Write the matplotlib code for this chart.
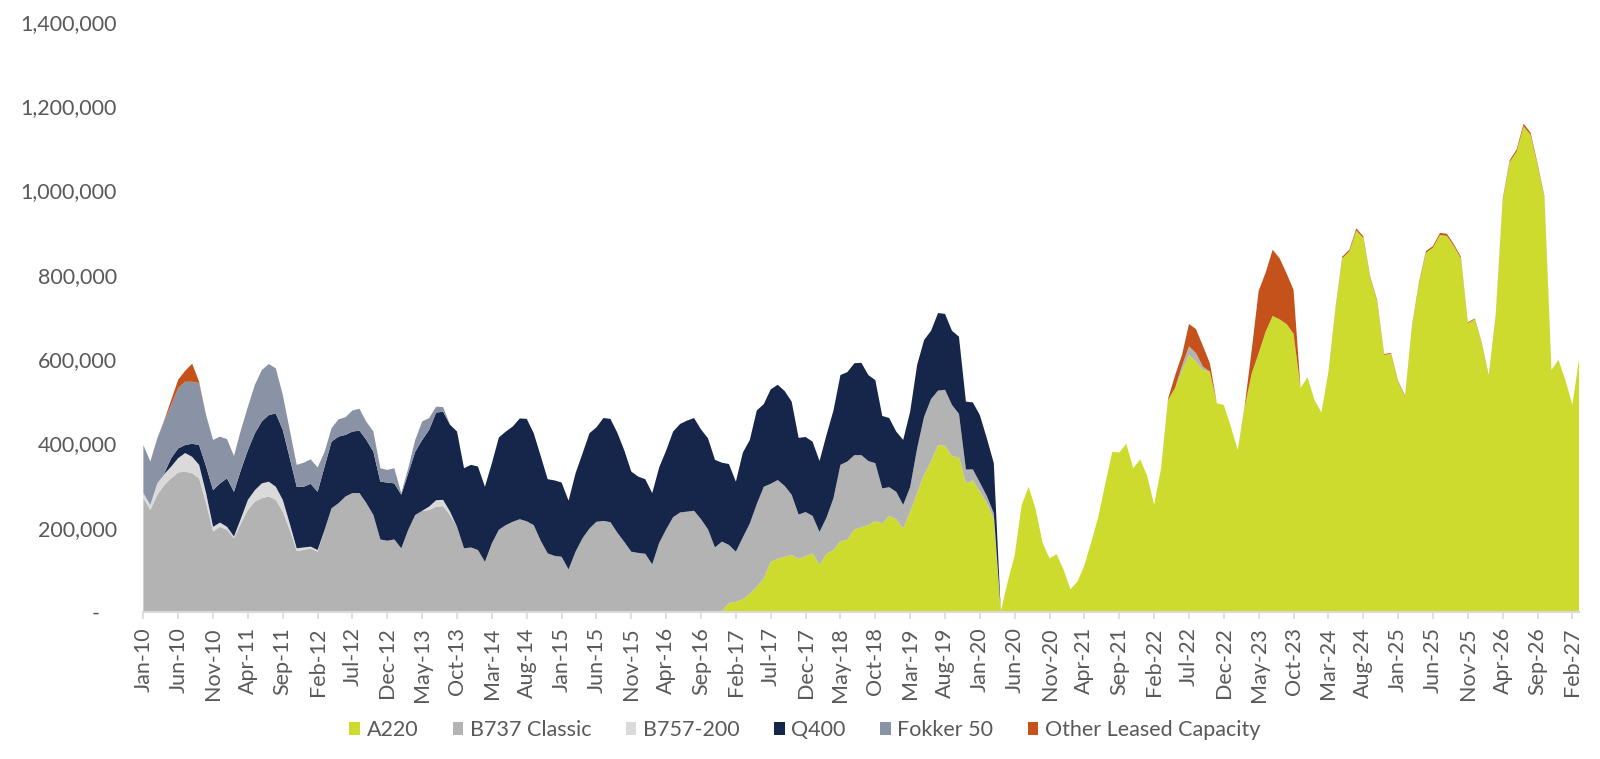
import matplotlib
import numpy as np

matplotlib.use('Agg')

import matplotlib.pyplot as plt  # noqa: E402
from matplotlib.patches import Patch  # noqa: E402
from matplotlib.ticker import FuncFormatter  # noqa: E402

plt.rcParams.update({
    'font.family': ['Lato', 'DejaVu Sans'],
    'font.size': 15,
    'text.color': '#595959',
    'xtick.color': '#595959',
    'ytick.color': '#595959',
})

# monthly values, Jan-10 .. Mar-27, in thousands
A220 = [0] * 83 + [
    3, 21, 24, 30, 43, 60, 80, 119, 126, 131,
    135, 126, 132, 139, 112, 138, 147, 168, 171, 196,
    201, 206, 216, 210, 228, 220, 198, 238, 282, 325,
    357, 396, 394, 369, 367, 305, 312, 285, 258, 220,
    2, 72, 135, 254, 297, 244, 164, 127, 137, 101,
    54, 72, 111, 167, 226, 305, 380, 378, 399, 341,
    362, 323, 254, 341, 503, 531, 572, 610, 594, 574,
    570, 495, 491, 440, 384, 487, 566, 614, 665, 702,
    694, 683, 660, 531, 557, 503, 473, 566, 716, 839,
    855, 905, 887, 792, 736, 610, 612, 546, 511, 677,
    780, 852, 864, 894, 892, 868, 839, 685, 694, 637,
    558, 701, 975, 1067, 1092, 1152, 1132, 1060, 982, 574,
    598, 550, 491, 606,
]
B737 = [
    270, 242, 278, 301, 317, 331, 333, 329, 317, 258,
    191, 202, 195, 175, 210, 242, 262, 270, 274, 266,
    238, 195, 145, 147, 151, 143, 195, 246, 258, 274,
    282, 282, 258, 230, 172, 169, 172, 151, 195, 230,
    240, 242, 250, 251, 230, 202, 151, 153, 147, 119,
    163, 195, 206, 214, 220, 215, 206, 169, 139, 133,
    131, 101, 143, 175, 198, 214, 216, 213, 188, 166,
    143, 140, 138, 113, 164, 196, 225, 236, 238, 240,
    220, 196, 153, 164, 138, 119, 147, 167, 196, 217,
    185, 187, 168, 143, 105, 105, 89, 78, 86, 123,
    181, 186, 176, 171, 152, 137, 83, 68, 65, 56,
    58, 106, 138, 148, 129, 133, 122, 103, 33, 26,
    22, 17, 14,
] + [0] * 26 + [12, 20, 20, 8] + [0] * 54
B757 = [
    12, 12, 27, 26, 28, 34, 44, 39, 32, 24,
    11, 10, 7, 4, 12, 24, 27, 35, 35, 31,
    28, 15, 6, 6, 4, 4,
] + [0] * 15 + [8, 15, 15, 8] + [0] * 162
Q400 = [
    0, 0, 0, 2, 20, 23, 19, 31, 47, 63,
    87, 93, 115, 106, 115, 118, 135, 147, 158, 174,
    166, 155, 146, 144, 149, 138, 150, 158, 158, 146,
    146, 148, 150, 150, 137, 138, 133, 127, 134, 150,
    168, 182, 208, 209, 206, 226, 190, 196, 198, 178,
    190, 219, 222, 226, 239, 243, 218, 201, 176, 179,
    176, 163, 186, 201, 226, 224, 244, 245, 237, 217,
    190, 181, 177, 169, 179, 187, 203, 210, 216, 220,
    213, 216, 208, 187, 192, 166, 201, 198, 222, 196,
    224, 226, 225, 221, 182, 178, 176, 168, 196, 208,
    213, 212, 218, 219, 204, 197, 172, 164, 143, 154,
    179, 198, 182, 162, 184, 180, 176, 183, 161, 159,
    160, 137, 119,
] + [0] * 84
FOKKER50 = [
    114, 103, 107, 124, 126, 143, 150, 147, 147, 122,
    119, 111, 93, 85, 95, 103, 115, 122, 121, 107,
    83, 67, 52, 57, 58, 58, 35, 32, 41, 42,
    50, 52, 43, 48, 32, 30, 36, 4, 12, 28,
    44, 28, 14, 11,
] + [0] * 163
OTHER = [0] * 3 + [2, 12, 20, 26, 43, 3] + [0] * 138 \
    + [3, 30, 26, 53, 57, 49, 20] + [0] * 4 \
    + [3, 56, 148, 140, 157, 145, 120, 104] + [0] * 4 \
    + [2, 3, 4, 4, 5, 4, 3, 3, 2, 2, 2, 2, 3, 3, 4, 4,
       5, 5, 4, 4, 2, 2, 2, 2, 3, 4, 4, 5, 6, 5, 4, 3] + [0] * 5

SERIES = ['A220', 'B737 Classic', 'B757-200', 'Q400', 'Fokker 50', 'Other Leased Capacity']
COLORS = ['#CDDB2F', '#B3B3B3', '#DADADA', '#16264A', '#8A93A5', '#C4521A']

TICK_LABELS = [
    'Jan-10', 'Jun-10', 'Nov-10', 'Apr-11', 'Sep-11', 'Feb-12', 'Jul-12', 'Dec-12',
    'May-13', 'Oct-13', 'Mar-14', 'Aug-14', 'Jan-15', 'Jun-15', 'Nov-15', 'Apr-16',
    'Sep-16', 'Feb-17', 'Jul-17', 'Dec-17', 'May-18', 'Oct-18', 'Mar-19', 'Aug-19',
    'Jan-20', 'Jun-20', 'Nov-20', 'Apr-21', 'Sep-21', 'Feb-22', 'Jul-22', 'Dec-22',
    'May-23', 'Oct-23', 'Mar-24', 'Aug-24', 'Jan-25', 'Jun-25', 'Nov-25', 'Apr-26',
    'Sep-26', 'Feb-27',
]

data = [A220, B737, B757, Q400, FOKKER50, OTHER]
n = len(A220)
for s in data:
    assert len(s) == n, len(s)
x = np.arange(n)
ys = [np.array(s, dtype=float) * 1000 for s in data]

fig = plt.figure(figsize=(16, 7.59), dpi=100)
ax = fig.add_axes([0.0896, 0.1937, 0.8975, 0.7777])

ax.stackplot(x, *ys, colors=COLORS, linewidth=0, antialiased=True)

ax.set_xlim(0, n - 1)
ax.set_ylim(0, 1400000)
ax.set_yticks(np.arange(0, 1400001, 200000))
ax.yaxis.set_major_formatter(FuncFormatter(
    lambda v, p: '-   ' if v == 0 else f'{v:,.0f}'))
ax.tick_params(axis='y', length=0, pad=19, labelsize=15.5)

ax.set_xticks(np.arange(0, n, 5))
ax.set_xticklabels(TICK_LABELS, rotation=90)
ax.tick_params(axis='x', length=5, width=1.2, color='#D9D9D9',
               pad=6, labelsize=15.5)

for side in ['top', 'right', 'left']:
    ax.spines[side].set_visible(False)
ax.spines['bottom'].set_color('#D9D9D9')
ax.spines['bottom'].set_linewidth(1.5)
ax.spines['bottom'].set_zorder(5)

handles = [Patch(facecolor=c, edgecolor='none') for c in COLORS]
fig.legend(handles, SERIES, loc='center', bbox_to_anchor=(0.503, 0.038),
           ncol=6, frameon=False, fontsize=15.5, handlelength=0.5,
           handleheight=0.5, handletextpad=0.3, columnspacing=1.6)

fig.savefig('out.png', dpi=100, facecolor='white')
